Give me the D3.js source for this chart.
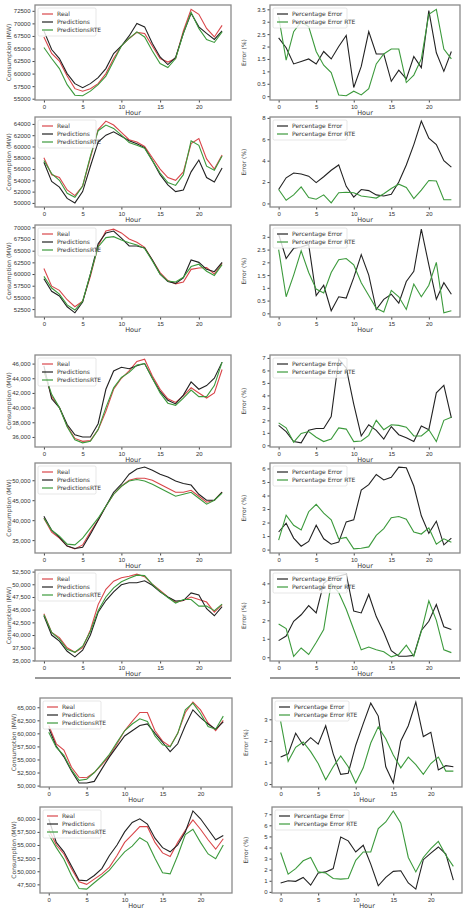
<!DOCTYPE html>
<html><head><meta charset="utf-8">
<script src="https://cdn.jsdelivr.net/npm/d3@7"></script>
<style>body{margin:0;background:#fff}svg{display:block;font-family:"DejaVu Sans",sans-serif}</style>
</head><body><svg id="c" width="474" height="913"></svg>
<script>
const hours = d3.range(24);
const real1=[67300,64000,62500,59500,57000,56500,57000,58000,60000,63000,65500,67000,68200,68000,65500,63000,62300,63000,68500,72800,71800,69000,67300,69600];
const pred1=[68500,64800,63000,60000,58000,57200,58000,59200,61000,64000,65500,67500,70000,69300,66000,63300,61800,63200,68000,72000,69300,68000,66800,68500];
const rte1=[65200,63000,61000,57800,55700,55600,56500,57800,59500,62500,65500,67000,68300,67300,64500,62000,61200,63000,68000,72200,69000,66800,66200,68300];
const err1=[2.35,1.95,1.3,1.4,1.5,1.3,1.8,1.5,2.0,2.45,0.35,1.2,2.6,1.7,1.7,0.6,1.05,0.7,1.6,1.15,3.45,1.75,1.0,1.8];
const errRte1=[3.2,1.45,2.6,3.0,2.8,1.8,1.25,0.95,0.05,0.02,0.2,0.05,0.3,1.3,1.7,1.9,1.9,0.55,0.85,1.5,3.3,3.5,1.9,1.5];
const real2=[58000,55000,54500,52300,51300,53000,58000,63000,64500,63800,62500,61200,60800,60000,58000,56000,54500,54000,55500,60500,61400,57800,56000,58500];
const pred2=[57200,53800,52800,50800,50000,52000,56500,60800,62000,62600,61800,61000,60500,59800,57500,55000,53200,52000,52300,55500,57600,54500,53700,56200];
const rte2=[57500,55200,54000,51700,51000,53000,58300,62800,63800,63200,62000,60700,60200,59700,57500,55300,53600,53100,55000,61000,60200,56500,55800,58300];
const err2=[1.3,2.4,2.85,2.75,2.55,1.95,2.5,3.1,3.6,1.6,0.6,1.3,1.2,0.8,0.7,0.85,2.0,3.6,5.5,7.7,6.1,5.5,4.0,3.4];
const errRte2=[1.3,0.3,0.8,1.55,0.55,0.4,0.8,0.05,1.0,1.05,1.0,0.7,0.6,0.5,0.9,1.4,1.8,1.5,0.45,1.25,2.15,2.1,0.35,0.35];
const real3=[61200,57400,56500,54500,53000,54200,59500,66000,69200,69600,68800,67500,66800,65700,63000,60300,58600,57900,58300,61000,61300,61400,60000,62300];
const pred3=[59000,56300,55300,53000,51700,54000,60000,66500,68800,69200,67700,66000,66000,65600,63000,60000,58400,58000,59200,63000,62500,61000,60500,62500];
const rte3=[59500,57000,55700,53400,52300,54200,60000,65800,67800,68000,67300,66700,66200,65500,62800,60000,58500,58300,59300,61600,62100,60600,59700,62000];
const err3=[3.1,2.15,2.55,2.6,2.7,0.7,1.1,0.1,0.65,0.6,1.4,2.3,1.5,0.15,0.55,0.75,0.4,1.25,1.65,3.3,1.9,0.55,1.2,0.75];
const errRte3=[2.5,0.65,1.5,2.45,1.6,0.95,0.8,1.6,2.1,2.15,1.9,1.2,0.7,0.2,0.05,0.9,0.65,0.15,1.15,0.65,1.1,2.0,0.02,0.1];
const real4=[45000,41500,40000,37500,35800,35400,35500,37000,39500,42500,44000,45000,46300,46600,44300,42500,41200,40700,41600,42700,42000,41300,42000,45200];
const pred4=[45700,41200,40000,37700,36300,36000,36000,37800,42500,45000,45500,45300,45700,46000,44000,42200,41000,40500,41700,43500,42500,43000,44000,46200];
const rte4=[45000,41800,40000,37400,35600,35200,35400,37000,40000,42700,44100,44800,45800,46000,44000,42000,40600,40300,41300,42400,41500,41500,43000,46200];
const err4=[1.6,1.1,0.3,0.2,1.2,1.35,1.35,2.3,6.9,6.2,3.3,0.75,1.65,1.2,0.5,1.5,0.85,0.6,0.3,1.55,1.25,4.2,4.8,2.2];
const errRte4=[1.8,1.4,0.25,0.95,1.1,0.65,0.3,0.5,1.4,1.3,0.3,0.35,0.8,2.0,1.25,1.65,1.6,1.45,0.75,0.75,1.25,0.3,2.0,2.25];
const real5=[40500,37000,35500,33500,32800,33800,37000,40000,43500,46500,48500,50000,50500,50500,50000,49000,48000,47000,47000,47500,46000,44500,45000,47000];
const pred5=[41000,37500,35700,33500,32900,33200,36500,40000,43500,47000,49000,51500,52800,53300,52500,51500,50800,49800,49200,48800,46500,45000,45000,47000];
const rte5=[40500,37500,36000,34000,33800,35500,38000,40500,43500,46500,48500,49800,50200,49800,49000,48000,47000,46000,46500,47000,45500,44000,45000,46800];
const err5=[1.3,1.95,0.85,0.25,0.6,1.8,0.8,0.4,0.55,2.05,2.2,4.4,4.8,5.55,5.15,5.35,6.1,6.05,4.7,2.5,1.2,2.1,0.35,0.85];
const errRte5=[0.7,2.55,1.8,1.45,2.8,3.35,2.7,2.2,0.8,0.9,0.05,0.1,0.2,1.05,1.55,2.35,2.45,2.25,1.3,1.15,1.6,0.4,0.8,0.55];
const real6=[44200,40500,39500,37500,36600,37500,41000,46000,49000,50600,51300,51600,52000,51500,50000,48800,47500,46500,46800,47500,47000,46500,44500,46000];
const pred6=[43800,40000,38800,36800,35700,37000,40000,44500,46800,48500,49900,50300,50300,50700,49800,48500,47500,46700,46800,48300,47900,45200,43800,45600];
const rte6=[44000,40500,39200,37200,36600,37800,40700,44800,47500,49300,50500,51200,51800,51700,50000,48600,47400,46300,47000,47000,45700,45700,44800,46100];
const err6=[0.9,1.15,1.95,2.3,2.8,2.4,4.0,4.3,4.4,4.5,2.5,2.4,3.4,2.2,1.35,0.35,0.05,0.05,0.1,1.45,1.95,2.85,1.65,1.5];
const errRte6=[1.8,1.55,0.05,0.5,0.15,0.8,1.5,4.0,3.5,2.6,1.5,0.4,0.55,0.4,0.3,0.02,0.15,0.65,0.05,1.4,3.05,2.0,0.4,0.25];
const real7=[61500,58000,56800,53500,51600,51500,52500,54000,55700,58000,60500,62300,64000,64000,60500,58500,57500,60000,64000,66000,64500,62000,60500,62500];
const pred7=[61000,57500,55500,52800,50500,50500,50800,53200,55500,57500,59500,60500,61500,61800,60000,58300,56500,58000,61500,64500,63000,61800,60800,62200];
const rte7=[60200,57300,55800,53000,51000,51200,52500,54200,56000,58300,60500,61800,62800,62300,59500,57800,57400,60000,64500,65800,63800,61300,60800,63300];
const err7=[1.25,1.4,2.35,1.8,2.15,1.85,2.7,1.4,0.45,0.5,1.8,2.8,3.75,3.15,0.8,0.05,2.0,2.7,3.8,2.2,2.4,0.65,0.85,0.8];
const errRte7=[2.9,1.05,1.7,1.95,1.5,0.95,0.2,0.8,1.3,0.8,0.05,0.75,1.9,2.65,2.1,1.35,0.75,1.25,0.9,0.45,0.95,1.25,0.6,0.6];
const real8=[58000,55000,53300,50500,48000,47500,48500,49500,50800,53000,55500,57000,58500,58500,55500,53500,52800,55500,57800,59800,58000,56000,54200,56200];
const pred8=[60000,55500,53700,51000,48300,48200,49200,50500,53000,55000,57500,59300,60000,59000,56300,54500,53700,55000,57500,61500,60000,58000,56000,56800];
const rte8=[57000,54500,52300,49200,46700,46600,47800,49000,50200,52000,53700,54800,56400,55500,52500,49700,49500,53000,57000,58000,55500,53300,52400,55000];
const err8=[0.8,1.0,0.95,1.3,0.6,1.7,1.8,2.1,4.95,4.6,3.6,4.2,2.5,0.55,1.3,1.85,1.9,0.8,0.25,2.9,3.5,4.05,3.4,1.05];
const errRte8=[3.55,1.6,2.1,2.8,3.1,1.8,1.7,1.2,1.15,1.2,2.85,3.6,3.6,5.7,6.3,7.3,6.2,3.1,1.8,3.1,3.9,4.55,3.3,2.3];
const xTicks=[0,5,10,15,20];
const consTicks=[
 [55000,57500,60000,62500,65000,67500,70000,72500],
 [50000,52000,54000,56000,58000,60000,62000,64000],
 [52500,55000,57500,60000,62500,65000,67500,70000],
 [36000,38000,40000,42000,44000,46000],
 [35000,40000,45000,50000],
 [35000,37500,40000,42500,45000,47500,50000,52500],
 [50000,52500,55000,57500,60000,62500,65000],
 [47500,50000,52500,55000,57500,60000]];
const errTicks=[
 [0,0.5,1,1.5,2,2.5,3,3.5],[0,2,4,6,8],[0,0.5,1,1.5,2,2.5,3],[0,1,2,3,4,5,6,7],
 [0,1,2,3,4,5,6],[0,1,2,3,4],[0,1,2,3],[0,1,2,3,4,5,6,7]];
const consLegend=["Real","Predictions","PredictionsRTE"];
const errLegend=["Percentage Error","Percentage Error RTE"];

const rows=[
 {t:5,b:100,r:real1,p:pred1,g:rte1,e:err1,eg:errRte1,comma:false},
 {t:117,b:207,r:real2,p:pred2,g:rte2,e:err2,eg:errRte2,comma:false},
 {t:225,b:317,r:real3,p:pred3,g:rte3,e:err3,eg:errRte3,comma:false},
 {t:355,b:447,r:real4,p:pred4,g:rte4,e:err4,eg:errRte4,comma:true},
 {t:463,b:553,r:real5,p:pred5,g:rte5,e:err5,eg:errRte5,comma:true},
 {t:570,b:661,r:real6,p:pred6,g:rte6,e:err6,eg:errRte6,comma:true},
 {t:698,b:787,r:real7,p:pred7,g:rte7,e:err7,eg:errRte7,comma:true,shift:true},
 {t:807,b:893,r:real8,p:pred8,g:rte8,e:err8,eg:errRte8,comma:true,shift:true}];
const RED="#d9464a",BLK="#222",GRN="#3c9a3c";
const svg=d3.select("#c");
function pad(ext){const d=ext[1]-ext[0];return [ext[0]-d*0.05,ext[1]+d*0.05];}
function panel(x0,x1,t,b,series,colors,ticks,fmt,ylabel,legend,lw){
  const x=d3.scaleLinear().domain([-1.15,24.15]).range([x0,x1]);
  const all=series.flat();
  const y=d3.scaleLinear().domain(pad(d3.extent(all))).range([b,t]);
  const g=svg.append("g");
  g.append("g").attr("transform",`translate(0,${b})`).call(d3.axisBottom(x).tickValues(xTicks).tickSize(2.5).tickPadding(2))
   .call(a=>{a.select(".domain").remove();a.selectAll("text").attr("font-size",6).attr("fill","#333");a.selectAll("line").attr("stroke","#444");});
  g.append("g").attr("transform",`translate(${x0},0)`).call(d3.axisLeft(y).tickValues(ticks).tickFormat(fmt).tickSize(2.5).tickPadding(2))
   .call(a=>{a.select(".domain").remove();a.selectAll("text").attr("font-size",6).attr("fill","#333");a.selectAll("line").attr("stroke","#444");});
  const line=d3.line().x((d,i)=>x(hours[i])).y(d=>y(d));
  series.forEach((s,i)=>g.append("path").attr("d",line(s)).attr("fill","none").attr("stroke",colors[i]).attr("stroke-width",lw));
  g.append("rect").attr("x",x0).attr("y",t).attr("width",x1-x0).attr("height",b-t).attr("fill","none").attr("stroke","#8a8a8a").attr("stroke-width",1.3);
  g.append("text").attr("x",(x0+x1)/2).attr("y",b+15).attr("text-anchor","middle").attr("font-size",6.5).attr("fill","#333").text("Hour");
  g.append("text").attr("transform",`translate(${x0-24},${(t+b)/2}) rotate(-90)`).attr("text-anchor","middle").attr("font-size",6).attr("fill","#444").text(ylabel);
  const lwid=legend.length===3?58:74;
  const lg=g.append("g").attr("transform",`translate(${x0+3},${t+3})`);
  lg.append("rect").attr("width",lwid).attr("height",legend.length*8+4).attr("fill","#fff").attr("fill-opacity",0.8).attr("stroke","#ccc").attr("stroke-width",0.5).attr("rx",1.5);
  legend.forEach((n,i)=>{
    lg.append("line").attr("x1",4).attr("x2",15).attr("y1",6+i*8).attr("y2",6+i*8).attr("stroke",colors[i]).attr("stroke-width",1.2);
    lg.append("text").attr("x",19).attr("y",8.2+i*8).attr("font-size",6).attr("fill","#333").text(n);
  });
}
rows.forEach((r,k)=>{
  const lx0=r.shift?40:35, lx1=r.shift?232:231, rx0=r.shift?272:270, rx1=r.shift?462:460;
  const fmt=r.comma?d3.format(","):d3.format("d");
  panel(lx0,lx1,r.t,r.b,[r.r,r.p,r.g],[RED,BLK,GRN],consTicks[k],fmt,"Consumption (MW)",consLegend,1.1);
  panel(rx0,rx1,r.t,r.b,[r.e,r.eg],[BLK,GRN],errTicks[k],d3.format(""),"Error (%)",errLegend,1.1);
});
svg.append("rect").attr("x",35).attr("y",677).attr("width",196).attr("height",2).attr("fill","#999");
svg.append("rect").attr("x",270).attr("y",677).attr("width",190).attr("height",2).attr("fill","#999");
</script></body></html>
